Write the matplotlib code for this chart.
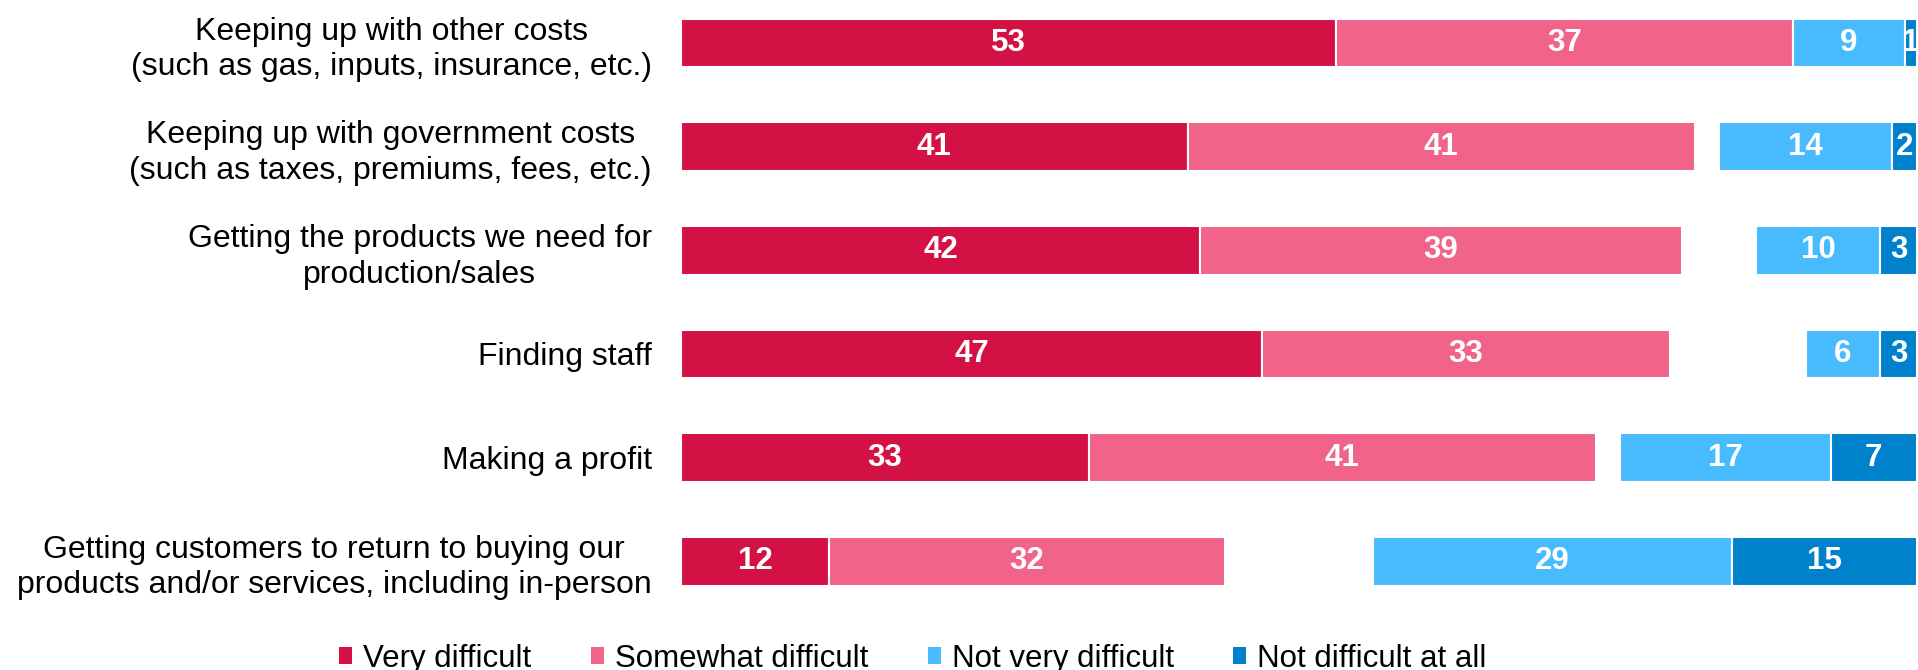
import matplotlib
matplotlib.use("Agg")
import matplotlib.pyplot as plt
from matplotlib.patches import Patch

plt.rcParams['font.family'] = ['Liberation Sans', 'DejaVu Sans']

# survey items, top to bottom
categories = [
    "Keeping up with other costs\n(such as gas, inputs, insurance, etc.)",
    "Keeping up with government costs\n(such as taxes, premiums, fees, etc.)",
    "Getting the products we need for\nproduction/sales",
    "Finding staff",
    "Making a profit",
    "Getting customers to return to buying our\nproducts and/or services, including in-person",
]
very_difficult = [53, 41, 42, 47, 33, 12]
somewhat_difficult = [37, 41, 39, 33, 41, 32]
not_very_difficult = [9, 14, 10, 6, 17, 29]
not_difficult_at_all = [1, 2, 3, 3, 7, 15]
total = 100

series_names = ["Very difficult", "Somewhat difficult", "Not very difficult", "Not difficult at all"]
colors = ["#D31145", "#F26389", "#48BBFF", "#0081CB"]

fig = plt.figure(figsize=(19.18, 6.70), dpi=100)
ax = fig.add_axes([0.355, 0.116, 0.6445, 0.866])

y = list(range(len(categories)))
h = 0.47

def draw(vals, lefts, color):
    bars = ax.barh(y, vals, left=lefts, height=h, color=color, edgecolor='white', linewidth=1.5)
    for b, v in zip(bars, vals):
        ax.text(b.get_x() + b.get_width() / 2, b.get_y() + b.get_height() / 2, str(v),
                ha='center', va='center', color='white', fontsize=22.5, fontweight='bold')

# difficult side from the left
draw(very_difficult, [0] * len(y), colors[0])
draw(somewhat_difficult, very_difficult, colors[1])
# not difficult side flush to the right edge (gap = don't know)
na_left = [total - a for a in not_difficult_at_all]
nv_left = [total - a - b for a, b in zip(not_difficult_at_all, not_very_difficult)]
draw(not_very_difficult, nv_left, colors[2])
draw(not_difficult_at_all, na_left, colors[3])

ax.set_xlim(0, total)
ax.set_ylim(5.3, -0.3)
ax.set_yticks(y)
ax.set_yticklabels(categories, fontsize=23)
for lab in ax.get_yticklabels():
    lab.set_multialignment('center')
    lab.set_linespacing(1.25)
ax.tick_params(axis='y', length=0, pad=21)
ax.set_xticks([])
for s in ax.spines.values():
    s.set_visible(False)

handles = [Patch(facecolor=c, edgecolor='none') for c in colors]
fig.legend(handles, series_names, loc='center', bbox_to_anchor=(0.476, 0.017), ncol=4,
           frameon=False, fontsize=22.5, handlelength=0.42, handleheight=0.5,
           handletextpad=0.35, columnspacing=1.9)

fig.savefig("out.png", dpi=100)
